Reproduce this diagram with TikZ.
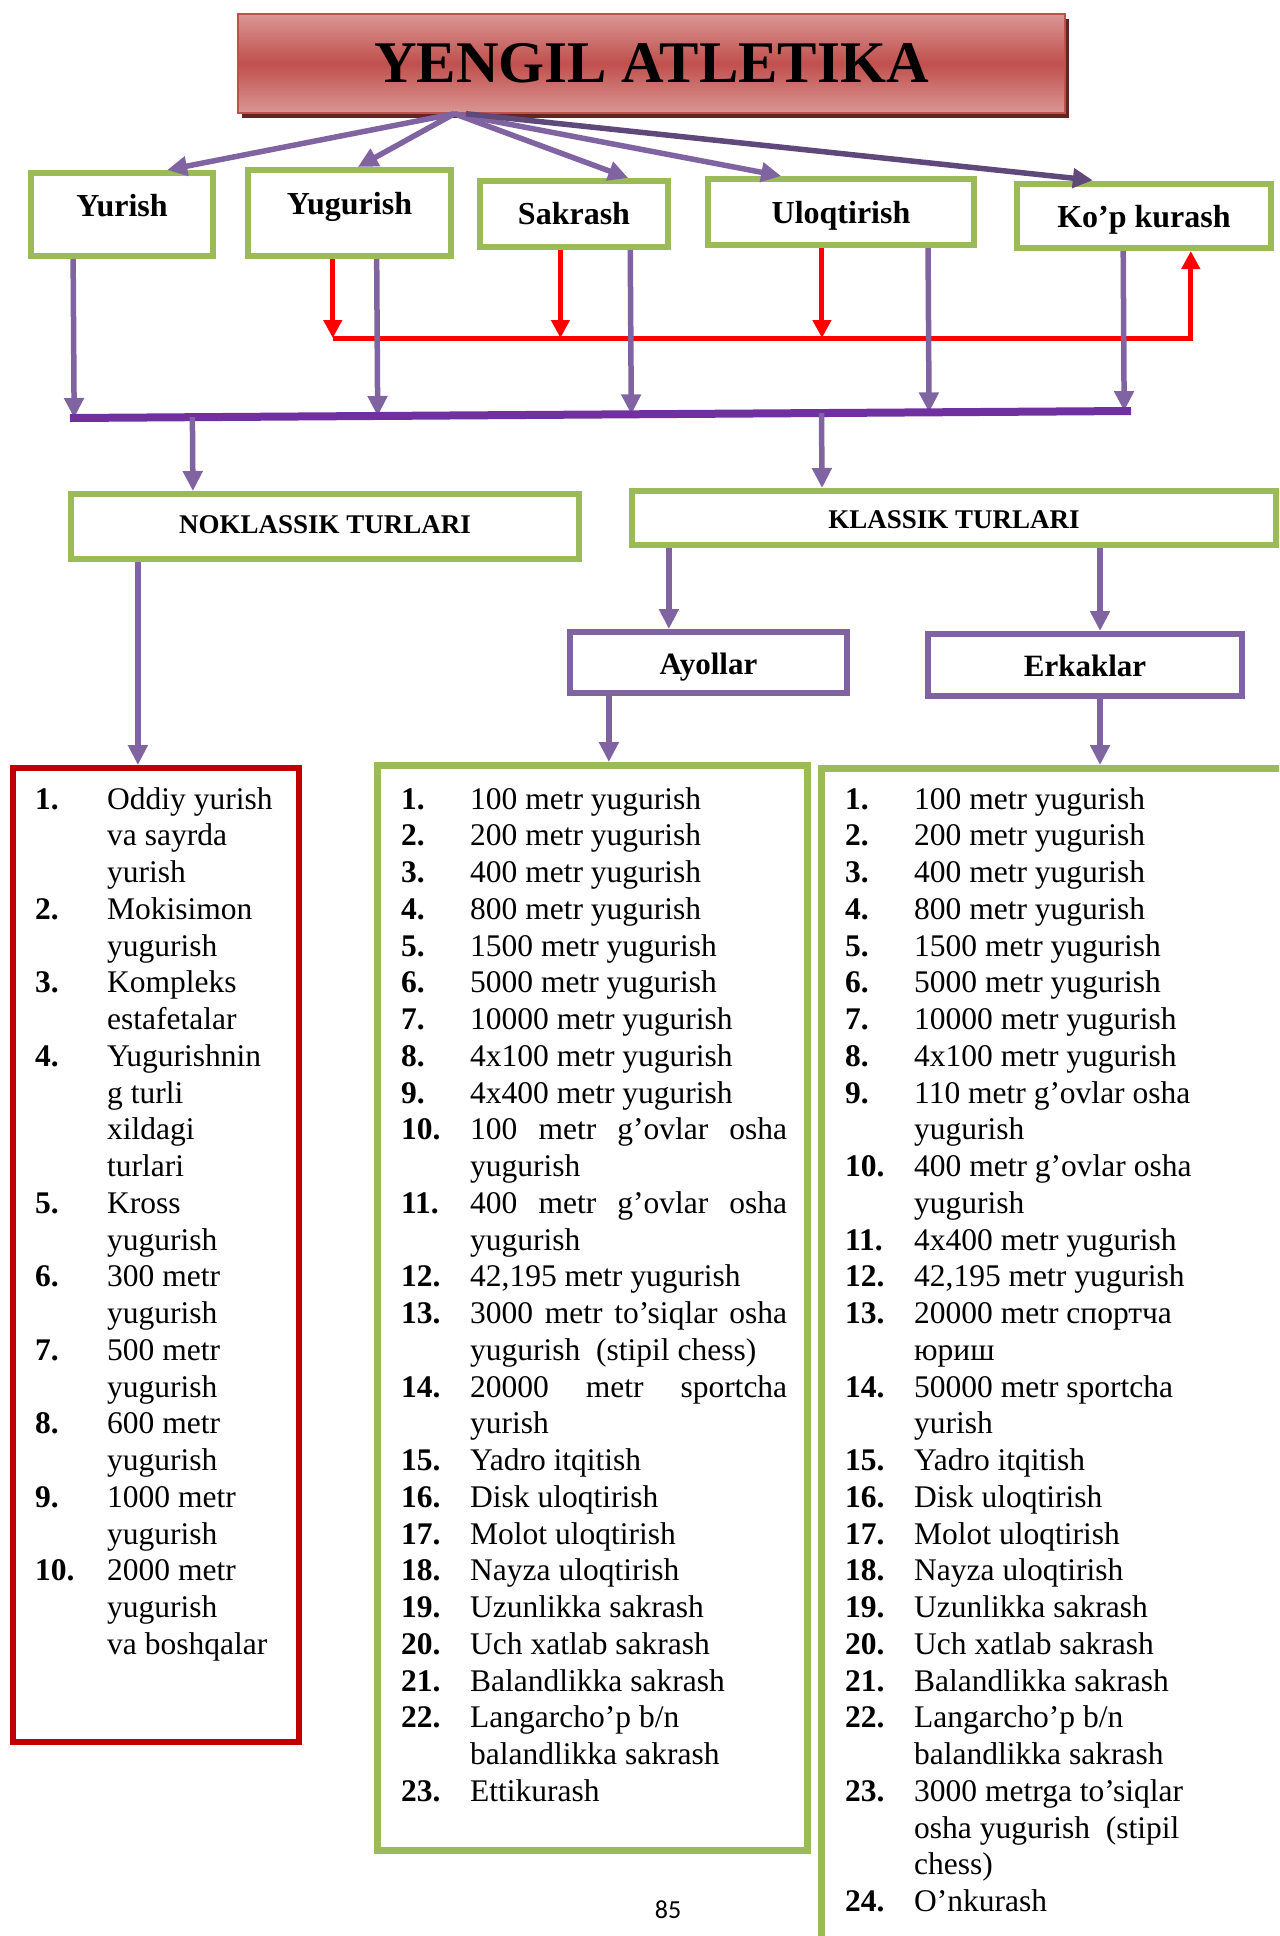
\documentclass[tikz,border=0pt]{standalone}
\usepackage{fontspec}
\setmainfont{Liberation Serif}
\newfontfamily\pagenumfont{Carlito}
\usetikzlibrary{math,calc,arrows.meta,shadows}

\definecolor{boxgreen}{HTML}{9BBB59}
\definecolor{linkpurple}{HTML}{8064A2}
\definecolor{darkpurple}{HTML}{5F497A}
\definecolor{buspurple}{HTML}{7030A0}
\definecolor{listred}{HTML}{C00000}
\definecolor{titlered}{HTML}{C0504D}
\definecolor{titlelight}{HTML}{DA9694}
\definecolor{titleshadow}{HTML}{632523}

% justified line inside the Ayollar list
\newcommand{\jline}[1]{\makebox[317bp][s]{#1}}

\tikzset{
	titlebox/.style={draw=titlered, line width=1.5bp, inner sep=0pt, anchor=base,
		top color=titlelight, bottom color=titlelight, middle color=titlered,
		drop shadow={shadow xshift=4bp, shadow yshift=-5bp, fill=titleshadow, opacity=1},
		font=\bfseries\fontsize{59bp}{70bp}\selectfont},
	catbox/.style={draw=boxgreen, fill=white, line width=6bp, inner sep=0pt, anchor=base,
		font=\bfseries\fontsize{32bp}{38bp}\selectfont},
	typebox/.style={catbox, font=\bfseries\fontsize{27bp}{32bp}\selectfont},
	sexbox/.style={catbox, draw=linkpurple, font=\bfseries\fontsize{31bp}{36bp}\selectfont},
	listbox/.style={draw=#1, line width=7bp, inner sep=0pt, anchor=north west},
	link/.style={draw=linkpurple, line width=5.5bp, -{Triangle[length=20bp, width=19bp]}},
	redlink/.style={draw=red, line width=5bp, -{Triangle[length=18bp, width=18bp]}},
	numtext/.style={anchor=base west, inner sep=0pt, font=\bfseries\fontsize{31.5bp}{36.75bp}\selectfont},
	itemtext/.style={anchor=base west, inner sep=0pt, font=\fontsize{31.5bp}{36.75bp}\selectfont},
}

\begin{document}
\begin{tikzpicture}[x=1bp, y=-1bp]
	% Constants
	\tikzmath{
		\linestep = 36.75; \firstbase = 809;
	}
	\useasboundingbox (0,0) rectangle (1279,1936);
	\clip (0,0) rectangle (1279,1936);

	% Title
	\node[titlebox, minimum width=827bp, text height=68bp, text depth=31bp] (title) at (651.5,82) {YENGIL ATLETIKA};

	% Kinds of athletics
	\node[catbox, minimum width=182bp, text height=43bp, text depth=40bp] (yurish) at (122,216) {Yurish};
	\node[catbox, minimum width=203bp, text height=44bp, text depth=42bp] (yugurish) at (349.5,214) {Yugurish};
	\node[catbox, minimum width=188bp, text height=43bp, text depth=23bp] (sakrash) at (574,224) {Sakrash};
	\node[catbox, minimum width=266bp, text height=44bp, text depth=22bp] (uloqtirish) at (841,223) {Uloqtirish};
	\node[catbox, minimum width=254bp, text height=43bp, text depth=21bp] (kopkurash) at (1144,227) {Ko’p kurash};

	% Title to kinds
	\coordinate (hub) at ($(title.south west)!.262!(title.south east)$);
	\coordinate (hubdark) at ($(title.south west)!.276!(title.south east)$);
	\foreach \cat/\pos in {yurish/.74, yugurish/.54, sakrash/.78, uloqtirish/.28} {
		\draw[link] (hub) -- ($(\cat.north west)!\pos!(\cat.north east)$);
	}
	\draw[link, draw=darkpurple, shorten >=7bp] (hubdark) -- ($(kopkurash.north west)!.33!(kopkurash.north east)$);

	% Red connection into Ko'p kurash
	\coordinate (redlevel) at (0,338);
	\coordinate (r1) at ($(yugurish.south west)!.42!(yugurish.south east)$);
	\coordinate (r2) at ($(sakrash.south west)!.43!(sakrash.south east)$);
	\coordinate (r3) at ($(uloqtirish.south west)!.43!(uloqtirish.south east)$);
	\coordinate (r4) at ($(kopkurash.south west)!.68!(kopkurash.south east)$);
	\foreach \r in {r1, r2, r3} {
		\draw[redlink] (\r) -- (\r |- redlevel);
	}
	\draw[redlink] (r1 |- redlevel) -| (r4);

	% Common bus
	\coordinate (busL) at (70,418);
	\coordinate (busR) at (1131,411);
	\foreach \cat/\pos in {yurish/.24, yugurish/.63, sakrash/.79, uloqtirish/.82, kopkurash/.42} {
		\coordinate (p) at ($(\cat.south west)!\pos!(\cat.south east)$);
		\draw[link] (p) -- ($(busL)!(p)!(busR)$);
	}
	\draw[buspurple, line width=8bp] (busL) -- (busR);

	% Non-classical and classical kinds
	\node[typebox, minimum width=508bp, text height=39bp, text depth=26bp] (noklassik) at (325,533) {NOKLASSIK TURLARI};
	\node[typebox, minimum width=644bp, text height=37bp, text depth=17bp] (klassik) at (954,528) {KLASSIK TURLARI};
	\coordinate (n0) at ($(noklassik.north west)!.243!(noklassik.north east)$);
	\coordinate (k0) at ($(klassik.north west)!.297!(klassik.north east)$);
	\draw[link] ($(busL)!(n0)!(busR)$) -- (n0);
	\draw[link] ($(busL)!(k0)!(busR)$) -- (k0);

	% Women and men
	\node[sexbox, minimum width=277bp, text height=42bp, text depth=19bp] (ayollar) at (708.5,674) {Ayollar};
	\node[sexbox, minimum width=314bp, text height=42bp, text depth=20bp] (erkaklar) at (1085,676) {Erkaklar};
	\coordinate (a0) at ($(ayollar.north west)!.36!(ayollar.north east)$);
	\coordinate (e0) at ($(erkaklar.north west)!.547!(erkaklar.north east)$);
	\draw[link] (a0 |- klassik.south) -- (a0);
	\draw[link] (e0 |- klassik.south) -- (e0);

	% List frames
	\node[listbox=listred, line width=6bp, minimum width=286bp, minimum height=974bp] (noklist) at (10,765) {};
	\node[listbox=boxgreen, minimum width=430bp, minimum height=1085bp] (ayollist) at (374,762) {};
	\node[listbox=boxgreen, minimum width=600bp, minimum height=1300bp] (erklist) at (818,765) {};
	\coordinate (n1) at ($(noklassik.south west)!.136!(noklassik.south east)$);
	\coordinate (a1) at ($(ayollar.south west)!.148!(ayollar.south east)$);
	\coordinate (e1) at ($(erkaklar.south west)!.547!(erkaklar.south east)$);
	\draw[link] (n1) -- (n1 |- noklist.north);
	\draw[link] (a1) -- (a1 |- ayollist.north);
	\draw[link] (e1) -- (e1 |- erklist.north);

	% Non-classical list
	\foreach \num/\txt [count=\i from 0] in {
		1./Oddiy yurish, /va sayrda, /yurish, 2./Mokisimon, /yugurish,
		3./Kompleks, /estafetalar, 4./Yugurishnin, /g turli, /xildagi, /turlari,
		5./Kross, /yugurish, 6./300 metr, /yugurish, 7./500 metr, /yugurish,
		8./600 metr, /yugurish, 9./1000 metr, /yugurish, 10./2000 metr, /yugurish,
		/va boshqalar} {
		\node[numtext] (nokn-\i) at (35, {\firstbase + \i*\linestep}) {\num};
		\node[itemtext] (nokt-\i) at (107, {\firstbase + \i*\linestep}) {\txt};
	}

	% Women's list
	\foreach \num/\txt [count=\i from 0] in {
		1./100 metr yugurish, 2./200 metr yugurish, 3./400 metr yugurish,
		4./800 metr yugurish, 5./1500 metr yugurish, 6./5000 metr yugurish,
		7./10000 metr yugurish, 8./4x100 metr yugurish, 9./4x400 metr yugurish,
		10./\jline{100 metr g’ovlar osha}, /yugurish,
		11./\jline{400 metr g’ovlar osha}, /yugurish,
		{12./42,195 metr yugurish},
		13./\jline{3000 metr to’siqlar osha}, /yugurish\ \ (stipil chess),
		14./\jline{20000 metr sportcha}, /yurish,
		15./Yadro itqitish, 16./Disk uloqtirish, 17./Molot uloqtirish,
		18./Nayza uloqtirish, 19./Uzunlikka sakrash, 20./Uch xatlab sakrash,
		21./Balandlikka sakrash, 22./{Langarcho’p b/n}, /balandlikka sakrash,
		23./Ettikurash} {
		\node[numtext] (ayn-\i) at (401, {\firstbase + \i*\linestep}) {\num};
		\node[itemtext] (ayt-\i) at (470, {\firstbase + \i*\linestep}) {\txt};
	}

	% Men's list
	\foreach \num/\txt [count=\i from 0] in {
		1./100 metr yugurish, 2./200 metr yugurish, 3./400 metr yugurish,
		4./800 metr yugurish, 5./1500 metr yugurish, 6./5000 metr yugurish,
		7./10000 metr yugurish, 8./4x100 metr yugurish,
		9./110 metr g’ovlar osha, /yugurish,
		10./400 metr g’ovlar osha, /yugurish,
		11./4x400 metr yugurish, {12./42,195 metr yugurish},
		13./20000 metr спортча, /юриш,
		14./50000 metr sportcha, /yurish,
		15./Yadro itqitish, 16./Disk uloqtirish, 17./Molot uloqtirish,
		18./Nayza uloqtirish, 19./Uzunlikka sakrash, 20./Uch xatlab sakrash,
		21./Balandlikka sakrash, 22./{Langarcho’p b/n}, /balandlikka sakrash,
		23./3000 metrga to’siqlar, /osha yugurish\ \ (stipil, /chess),
		24./O’nkurash} {
		\node[numtext] (ern-\i) at (845, {\firstbase + \i*\linestep}) {\num};
		\node[itemtext] (ert-\i) at (914, {\firstbase + \i*\linestep}) {\txt};
	}

	% Page number
	\node[anchor=base, font=\pagenumfont\fontsize{26bp}{30bp}\selectfont] (pagenum) at (668,1918) {85};
\end{tikzpicture}
\end{document}
